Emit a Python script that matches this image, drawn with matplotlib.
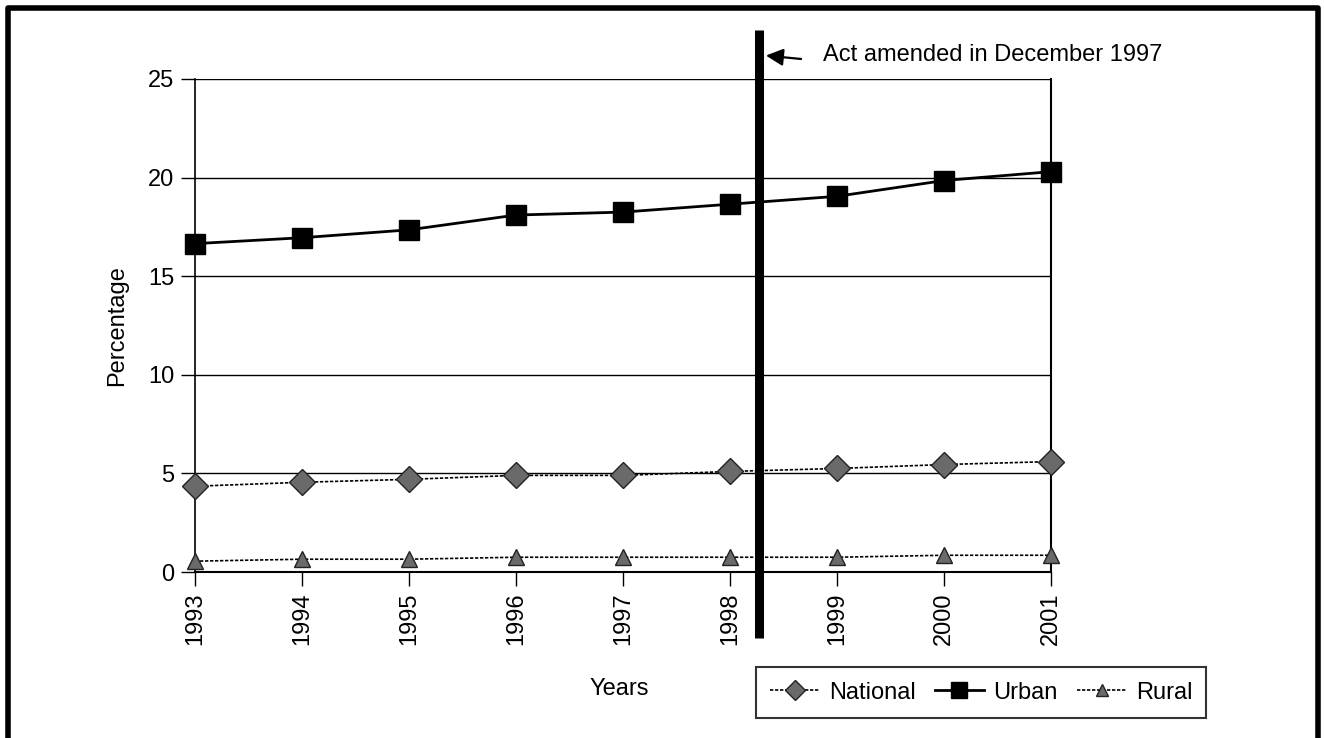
import matplotlib
matplotlib.use("Agg")
import matplotlib.pyplot as plt
from matplotlib.lines import Line2D

plt.rcParams['font.family'] = ['Liberation Sans', 'DejaVu Sans']

years = [1993, 1994, 1995, 1996, 1997, 1998, 1999, 2000, 2001]
national = [4.35, 4.55, 4.7, 4.9, 4.9, 5.1, 5.25, 5.45, 5.6]
urban = [16.65, 16.95, 17.35, 18.1, 18.25, 18.65, 19.05, 19.85, 20.3]
rural = [0.55, 0.65, 0.65, 0.75, 0.75, 0.75, 0.75, 0.85, 0.85]
y_ticks = [0, 5, 10, 15, 20, 25]
amend_x = 1998.27
note = "Act amended in December 1997"

fs = 17

fig = plt.figure(figsize=(13.24, 7.38), dpi=100)
ax = fig.add_axes([0.1473, 0.2249, 0.6465, 0.6681])

# horizontal grid
for t in y_ticks[1:]:
    ax.axhline(t, color='black', lw=1.0, zorder=1)

ax.plot(years, national, color='black', lw=1.2, ls=(0, (2, 1)), marker='D',
        ms=13, mfc='#6a6a6a', mec='#222222', mew=1.0, clip_on=False, zorder=4,
        label='National')
ax.plot(years, urban, color='black', lw=2.0, marker='s', ms=15,
        mfc='black', mec='black', clip_on=False, zorder=4, label='Urban')
ax.plot(years, rural, color='black', lw=1.2, ls=(0, (2, 1)), marker='^',
        ms=11, mfc='#6a6a6a', mec='#222222', mew=1.0, clip_on=False, zorder=4,
        label='Rural')

# amendment marker
ax.plot([amend_x, amend_x], [27.5, -3.35], color='black', lw=6.5,
        solid_capstyle='butt', clip_on=False, zorder=5)
ax.annotate('', xy=(amend_x + 0.04, 26.2), xytext=(amend_x + 0.42, 26.0),
            annotation_clip=False,
            arrowprops=dict(arrowstyle='-|>', color='black', lw=1.6,
                            mutation_scale=26))
ax.text(amend_x + 0.6, 26.2, note, fontsize=fs, va='center', ha='left')

ax.set_xlim(1993, 2001)
ax.set_ylim(0, 25)
ax.set_xticks(years)
ax.set_xticklabels([str(y) for y in years], rotation=90, fontsize=fs)
ax.set_yticks(y_ticks)
ax.set_yticklabels([str(t) for t in y_ticks], fontsize=fs)
ax.tick_params(axis='both', direction='out', length=10, width=1.0, pad=5,
               color='black')

ax.spines['top'].set_visible(False)
ax.spines['left'].set_linewidth(1.2)
ax.spines['right'].set_linestyle((0, (1, 1)))
ax.spines['right'].set_linewidth(1.5)
ax.spines['bottom'].set_linestyle((0, (1, 1)))
ax.spines['bottom'].set_linewidth(1.5)

ax.set_ylabel('Percentage', fontsize=fs, labelpad=14)
fig.text(0.468, 0.066, 'Years', fontsize=fs, ha='center', va='center')

leg = fig.legend(loc='center', bbox_to_anchor=(0.741, 0.0616), ncol=3,
                 fontsize=fs, frameon=True, fancybox=False, handlelength=2.1,
                 handletextpad=0.4, columnspacing=0.8, borderpad=0.6,
                 markerscale=0.8)
leg.get_frame().set_edgecolor('black')
leg.get_frame().set_linewidth(1.5)

# outer frame (left, top, right)
fig.add_artist(Line2D([0.0057, 0.0057, 0.9955, 0.9955], [0.0, 0.9898, 0.9898, 0.0],
                      color='black', lw=4, transform=fig.transFigure))

fig.savefig('out.png', dpi=100)
